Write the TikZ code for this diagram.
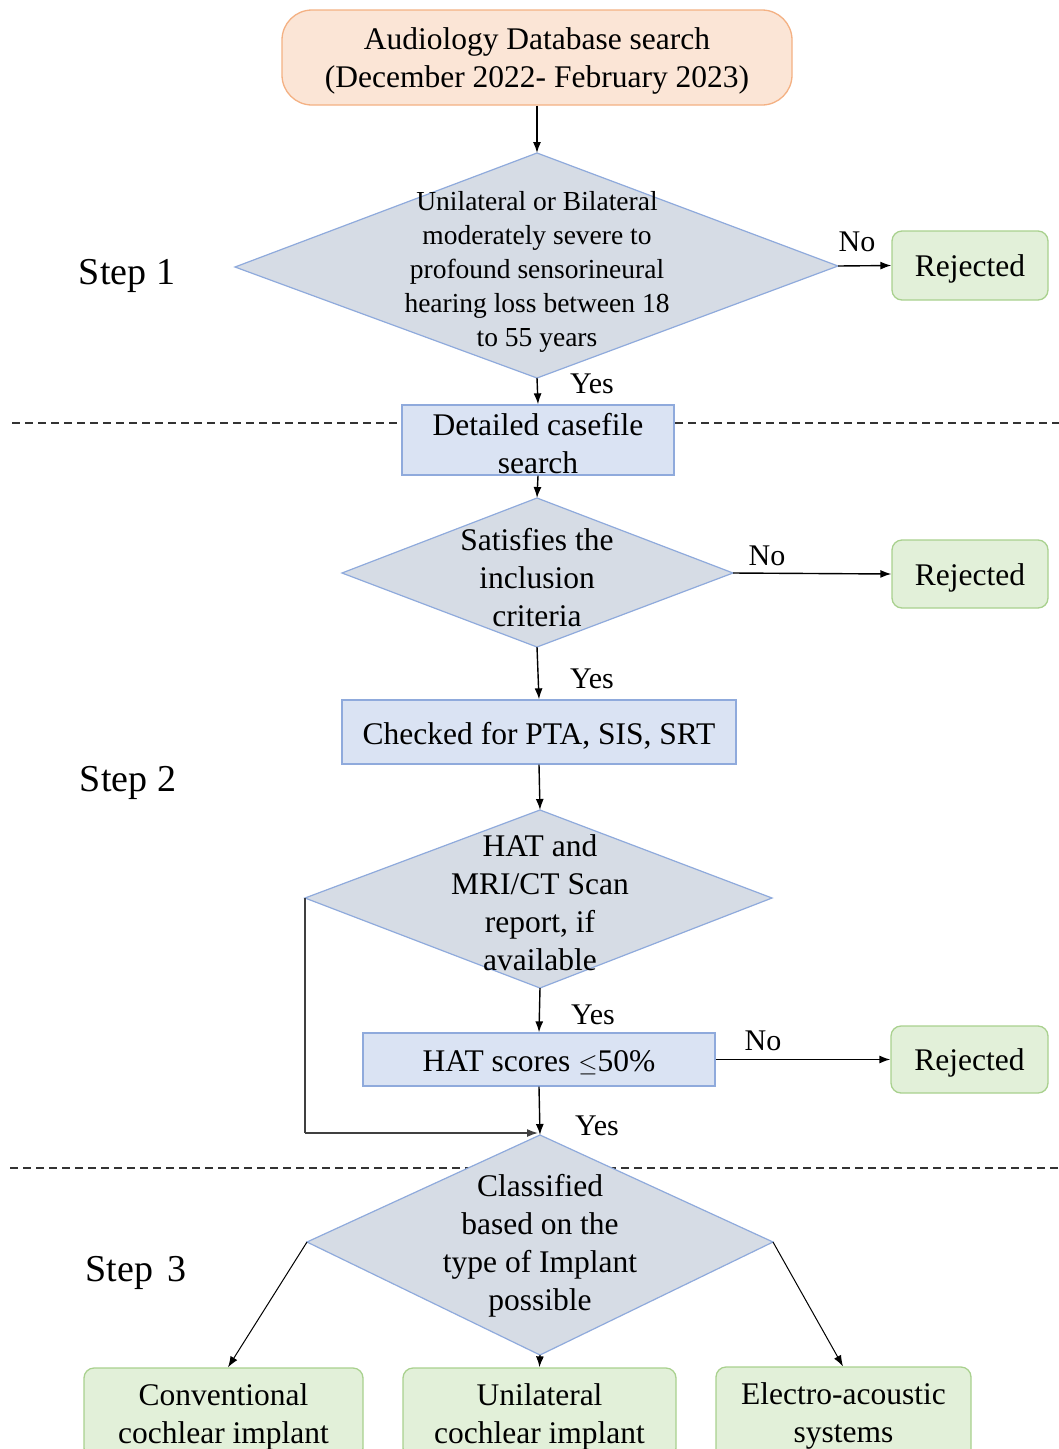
\documentclass[tikz,border=0pt]{standalone}
\usepackage{fontspec}
\setmainfont{Liberation Serif}
\usetikzlibrary{arrows.meta}
\definecolor{peachF}{HTML}{FBE5D6}
\definecolor{peachD}{HTML}{F4B183}
\definecolor{diaF}{HTML}{D6DCE5}
\definecolor{diaD}{HTML}{8FAADC}
\definecolor{blueF}{HTML}{DAE3F3}
\definecolor{blueD}{HTML}{8FAADC}
\definecolor{greenF}{HTML}{E2F0D9}
\definecolor{greenD}{HTML}{A9D18E}
\begin{document}
\begin{tikzpicture}[x=1pt,y=-1pt,
  txt/.style={font=\fontsize{31.5}{38}\selectfont, align=center, inner sep=0pt},
  smalltxt/.style={font=\fontsize{27.5}{34}\selectfont, align=center, inner sep=0pt},
  lbl/.style={font=\fontsize{30}{34}\selectfont, inner sep=0pt},
  steplbl/.style={font=\fontsize{38}{44}\selectfont, inner sep=0pt},
  startbox/.style={draw=peachD, fill=peachF, line width=1.3pt, rounded corners=30pt, inner sep=0pt},
  bluebox/.style={draw=blueD, fill=blueF, line width=1.3pt, inner sep=0pt},
  greenbox/.style={draw=greenD, fill=greenF, line width=1.3pt, rounded corners=10pt, inner sep=0pt},
  dia/.style={draw=diaD, fill=diaF, line width=1.2pt},
  conn/.style={draw=black, line width=1.4pt, -{Latex[length=11pt,width=8pt]}},
  plain/.style={draw=black, line width=1.4pt},
  sep/.style={draw=black!80, line width=1.3pt, dash pattern=on 8pt off 5pt},
]
\useasboundingbox (0,0) rectangle (1059,1449);
\clip (0,0) rectangle (1059,1449);
\fill[white] (0,0) rectangle (1059,1449);

% separators
\coordinate (s1a) at (12,423); \coordinate (s1b) at (1059,423);
\coordinate (s2a) at (10,1168); \coordinate (s2b) at (1059,1168);
\draw[sep] (s1a) -- (s1b);
\draw[sep] (s2a) -- (s2b);

% step labels
\node[steplbl] (st1) at (127,276) {Step 1};
\node[steplbl] (st2) at (128,783) {Step 2};
\node[steplbl] (st3) at (136,1273) {Step\hspace{14pt}3};

% start box
\node[startbox, minimum width=510pt, minimum height=95pt] (start) at (537,57.5) {};
\node[txt] (startT) at (537,61) {Audiology Database search\\(December 2022- February 2023)};

% diamond 1
\coordinate (d1t) at (537,153); \coordinate (d1r) at (838,266);
\coordinate (d1b) at (537,378); \coordinate (d1l) at (235,267);
\draw[dia] (d1t) -- (d1r) -- (d1b) -- (d1l) -- cycle;
\node[smalltxt] (d1) at (537,271.5) {Unilateral or Bilateral\\moderately severe to\\profound sensorineural\\hearing loss between 18\\to 55 years};

\node[greenbox, minimum width=156pt, minimum height=69pt] (rej1) at (970,265.5) {};
\node[txt] (rej1T) at (970,269) {Rejected};

% casefile box
\node[bluebox, minimum width=272pt, minimum height=70pt] (casefile) at (538,440) {};
\node[txt] (casefileT) at (538,443.5) {Detailed casefile\\search};

% diamond 2
\coordinate (d2t) at (537,498); \coordinate (d2r) at (733,573);
\coordinate (d2b) at (537,647); \coordinate (d2l) at (342,573);
\draw[dia] (d2t) -- (d2r) -- (d2b) -- (d2l) -- cycle;
\node[txt] (d2) at (537,577.5) {Satisfies the\\inclusion\\criteria};

\node[greenbox, minimum width=156pt, minimum height=68pt] (rej2) at (970,574) {};
\node[txt] (rej2T) at (970,577.5) {Rejected};

% checked box
\node[bluebox, minimum width=394pt, minimum height=64pt] (checked) at (539,732) {};
\node[txt] (checkedT) at (539,735.5) {Checked for PTA, SIS, SRT};

% diamond 3
\coordinate (d3t) at (540,810); \coordinate (d3r) at (772,898);
\coordinate (d3b) at (540,988); \coordinate (d3l) at (305,898);
\draw[dia] (d3t) -- (d3r) -- (d3b) -- (d3l) -- cycle;
\node[txt] (d3) at (540,902.5) {HAT and\\MRI/CT Scan\\report, if\\available};

% HAT box
\node[bluebox, minimum width=352pt, minimum height=53pt] (hat) at (539,1059.5) {};
\node[txt] (hatT) at (539,1063) {HAT scores $\leq$50\%};

\node[greenbox, minimum width=157pt, minimum height=67pt] (rej3) at (969.5,1059.5) {};
\node[txt] (rej3T) at (969.5,1063) {Rejected};

% diamond 4
\coordinate (d4t) at (540,1135); \coordinate (d4r) at (773,1242);
\coordinate (d4b) at (540,1355); \coordinate (d4l) at (307,1242);
\draw[dia] (d4t) -- (d4r) -- (d4b) -- (d4l) -- cycle;
\node[txt] (d4) at (540,1245.5) {Classified\\based on the\\type of Implant\\possible};

% bottom boxes
\node[greenbox, minimum width=279pt, minimum height=90pt] (conv) at (223.5,1413) {};
\node[txt] (convT) at (223.5,1416.5) {Conventional\\cochlear implant};
\node[greenbox, minimum width=273pt, minimum height=90pt] (uni) at (539.5,1413) {};
\node[txt] (uniT) at (539.5,1416.5) {Unilateral\\cochlear implant};
\node[greenbox, minimum width=255pt, minimum height=92pt] (elec) at (843.5,1413) {};
\node[txt] (elecT) at (843.5,1415.5) {Electro-acoustic\\systems};

% connectors
\draw[conn] (start.south) -- (d1t);
\draw[conn] (d1r) -- (rej1.west);
\draw[conn] (d1b) -- (casefile.north);
\draw[conn] (casefile.south) -- (d2t);
\draw[conn] (d2r) -- (rej2.west);
\draw[conn] (d2b) -- (checked.north);
\draw[conn] (checked.south) -- (d3t);
\draw[conn] (d3b) -- (hat.north);
\draw[conn] (hat.east) -- (rej3.west);
\draw[conn] (hat.south) -- (d4t);
\coordinate (byp) at (305,1133);
\coordinate (bypend) at (538,1133);
\draw[plain, draw=black!75] (d3l) -- (byp);
\draw[conn, draw=black!75] (byp) -- (bypend);
\draw[conn, line width=1pt] (d4l) -- (conv.north -| 228,0);
\draw[conn] (d4b) -- (uni.north);
\draw[conn, line width=1pt] (d4r) -- (elec.north -| 843,0);

% yes/no labels
\node[lbl] (no1) at (857,242) {No};
\node[lbl] (yes1) at (592,384) {Yes};
\node[lbl] (no2) at (767,556) {No};
\node[lbl] (yes2) at (592,679) {Yes};
\node[lbl] (yes3) at (593,1015) {Yes};
\node[lbl] (no3) at (763,1041) {No};
\node[lbl] (yes4) at (597,1126) {Yes};
\end{tikzpicture}
\end{document}
